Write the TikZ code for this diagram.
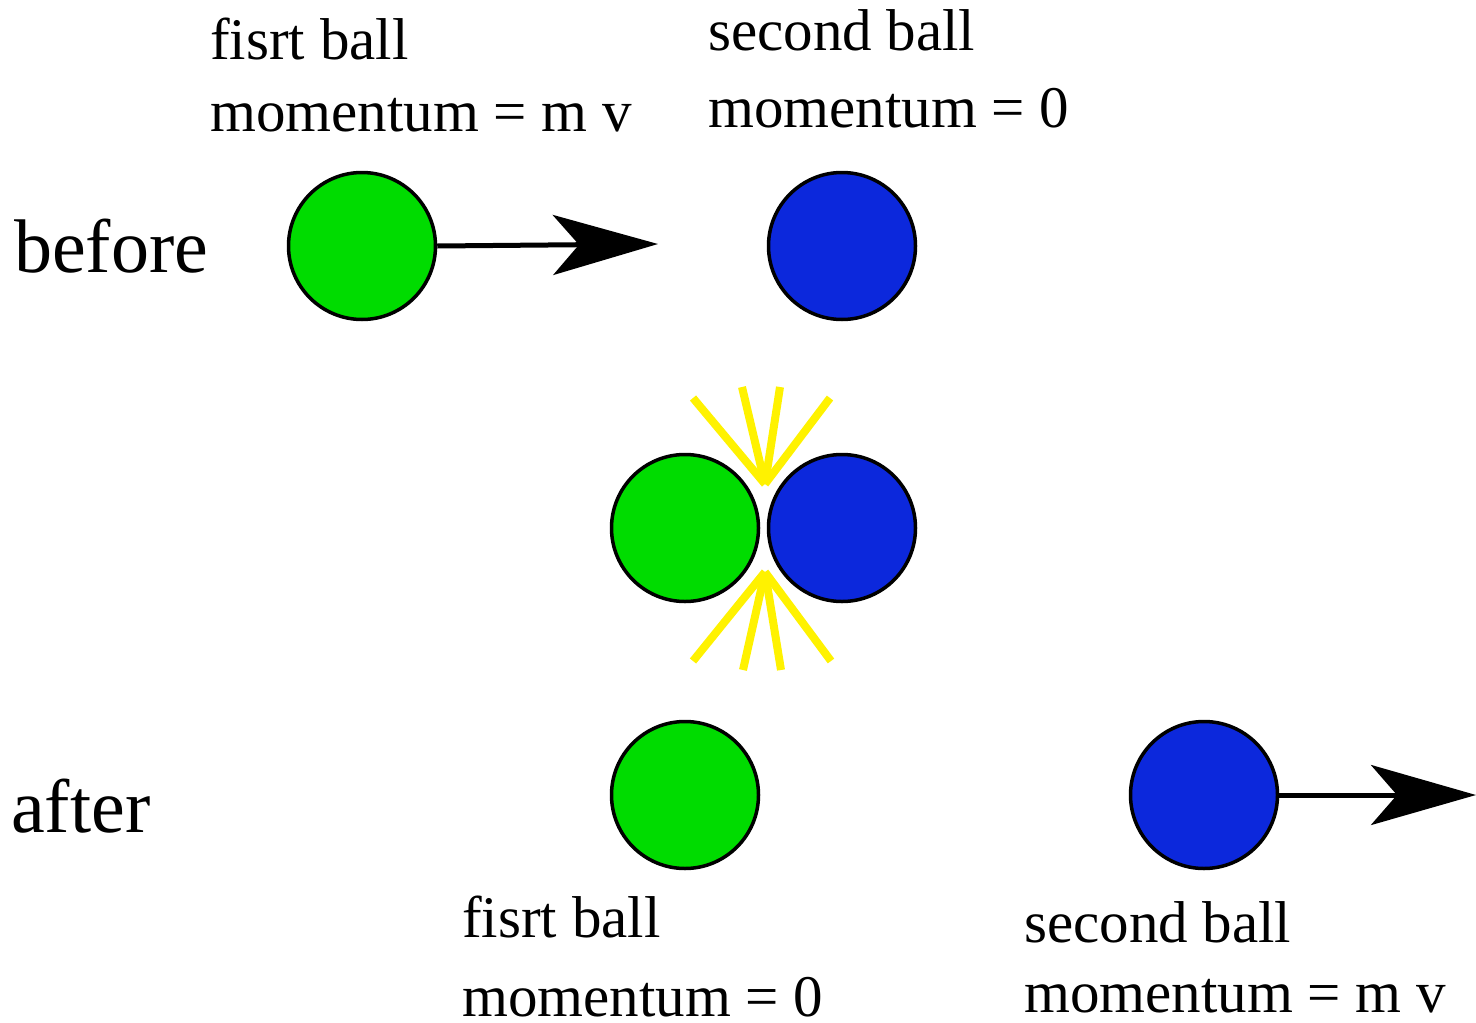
\documentclass[tikz,border=0pt]{standalone}
\usepackage{fontspec}
\setmainfont{Liberation Serif}
\usetikzlibrary{arrows.meta}
\definecolor{ballgreen}{RGB}{0,220,0}
\definecolor{ballblue}{RGB}{12,40,220}
\definecolor{flash}{RGB}{255,242,0}
\tikzset{
  ball/.style={circle, draw=black, line width=3.5pt, minimum size=147pt, inner sep=0pt},
  greenball/.style={ball, fill=ballgreen},
  blueball/.style={ball, fill=ballblue},
  lbl/.style={anchor=base west, inner sep=0pt, font=\fontsize{59}{61}\selectfont},
  biglbl/.style={anchor=base west, inner sep=0pt, font=\fontsize{76}{78}\selectfont},
  motion/.style={line width=5pt, -{Stealth[length=105pt, width=60pt, inset=26pt]}},
  ray/.style={line width=8pt, draw=flash}
}
\begin{document}
\begin{tikzpicture}[x=1pt, y=-1pt]
\useasboundingbox (0,0) rectangle (1476,1023);

% labels
\node[biglbl] (before) at (14,272) {before};
\node[biglbl] (after) at (11,832) {after};
\node[lbl] (t1a) at (210,59) {fisrt ball};
\node[lbl] (t1b) at (210,131) {momentum = m v};
\node[lbl] (t2a) at (708,50) {second ball};
\node[lbl] (t2b) at (708,127) {momentum = 0};
\node[lbl] (t3a) at (462,937) {fisrt ball};
\node[lbl] (t3b) at (462,1016) {momentum = 0};
\node[lbl] (t4a) at (1024,942) {second ball};
\node[lbl] (t4b) at (1024,1012) {momentum = m v};

% collision rays
\coordinate (ctop) at (765,484);
\coordinate (cbot) at (765,572);
\coordinate (r1) at (693,398);
\coordinate (r2) at (742,387);
\coordinate (r3) at (780,387);
\coordinate (r4) at (830,398);
\coordinate (s1) at (693,661);
\coordinate (s2) at (743,670);
\coordinate (s3) at (781,670);
\coordinate (s4) at (831,661);
\foreach \p in {r1,r2,r3,r4} \draw[ray] (\p) -- (ctop);
\foreach \p in {s1,s2,s3,s4} \draw[ray] (\p) -- (cbot);

% balls
\node[greenball] (g1) at (362,246) {};
\node[blueball] (b1) at (842,246) {};
\node[greenball] (g2) at (685,528) {};
\node[blueball] (b2) at (842,528) {};
\node[greenball] (g3) at (685,795) {};
\node[blueball] (b3) at (1204,795) {};

% motion arrows
\coordinate (tip1) at (658,244);
\coordinate (tip2) at (1476,795);
\draw[motion] (g1.east) -- (tip1);
\draw[motion] (b3.east) -- (tip2);
\end{tikzpicture}
\end{document}
